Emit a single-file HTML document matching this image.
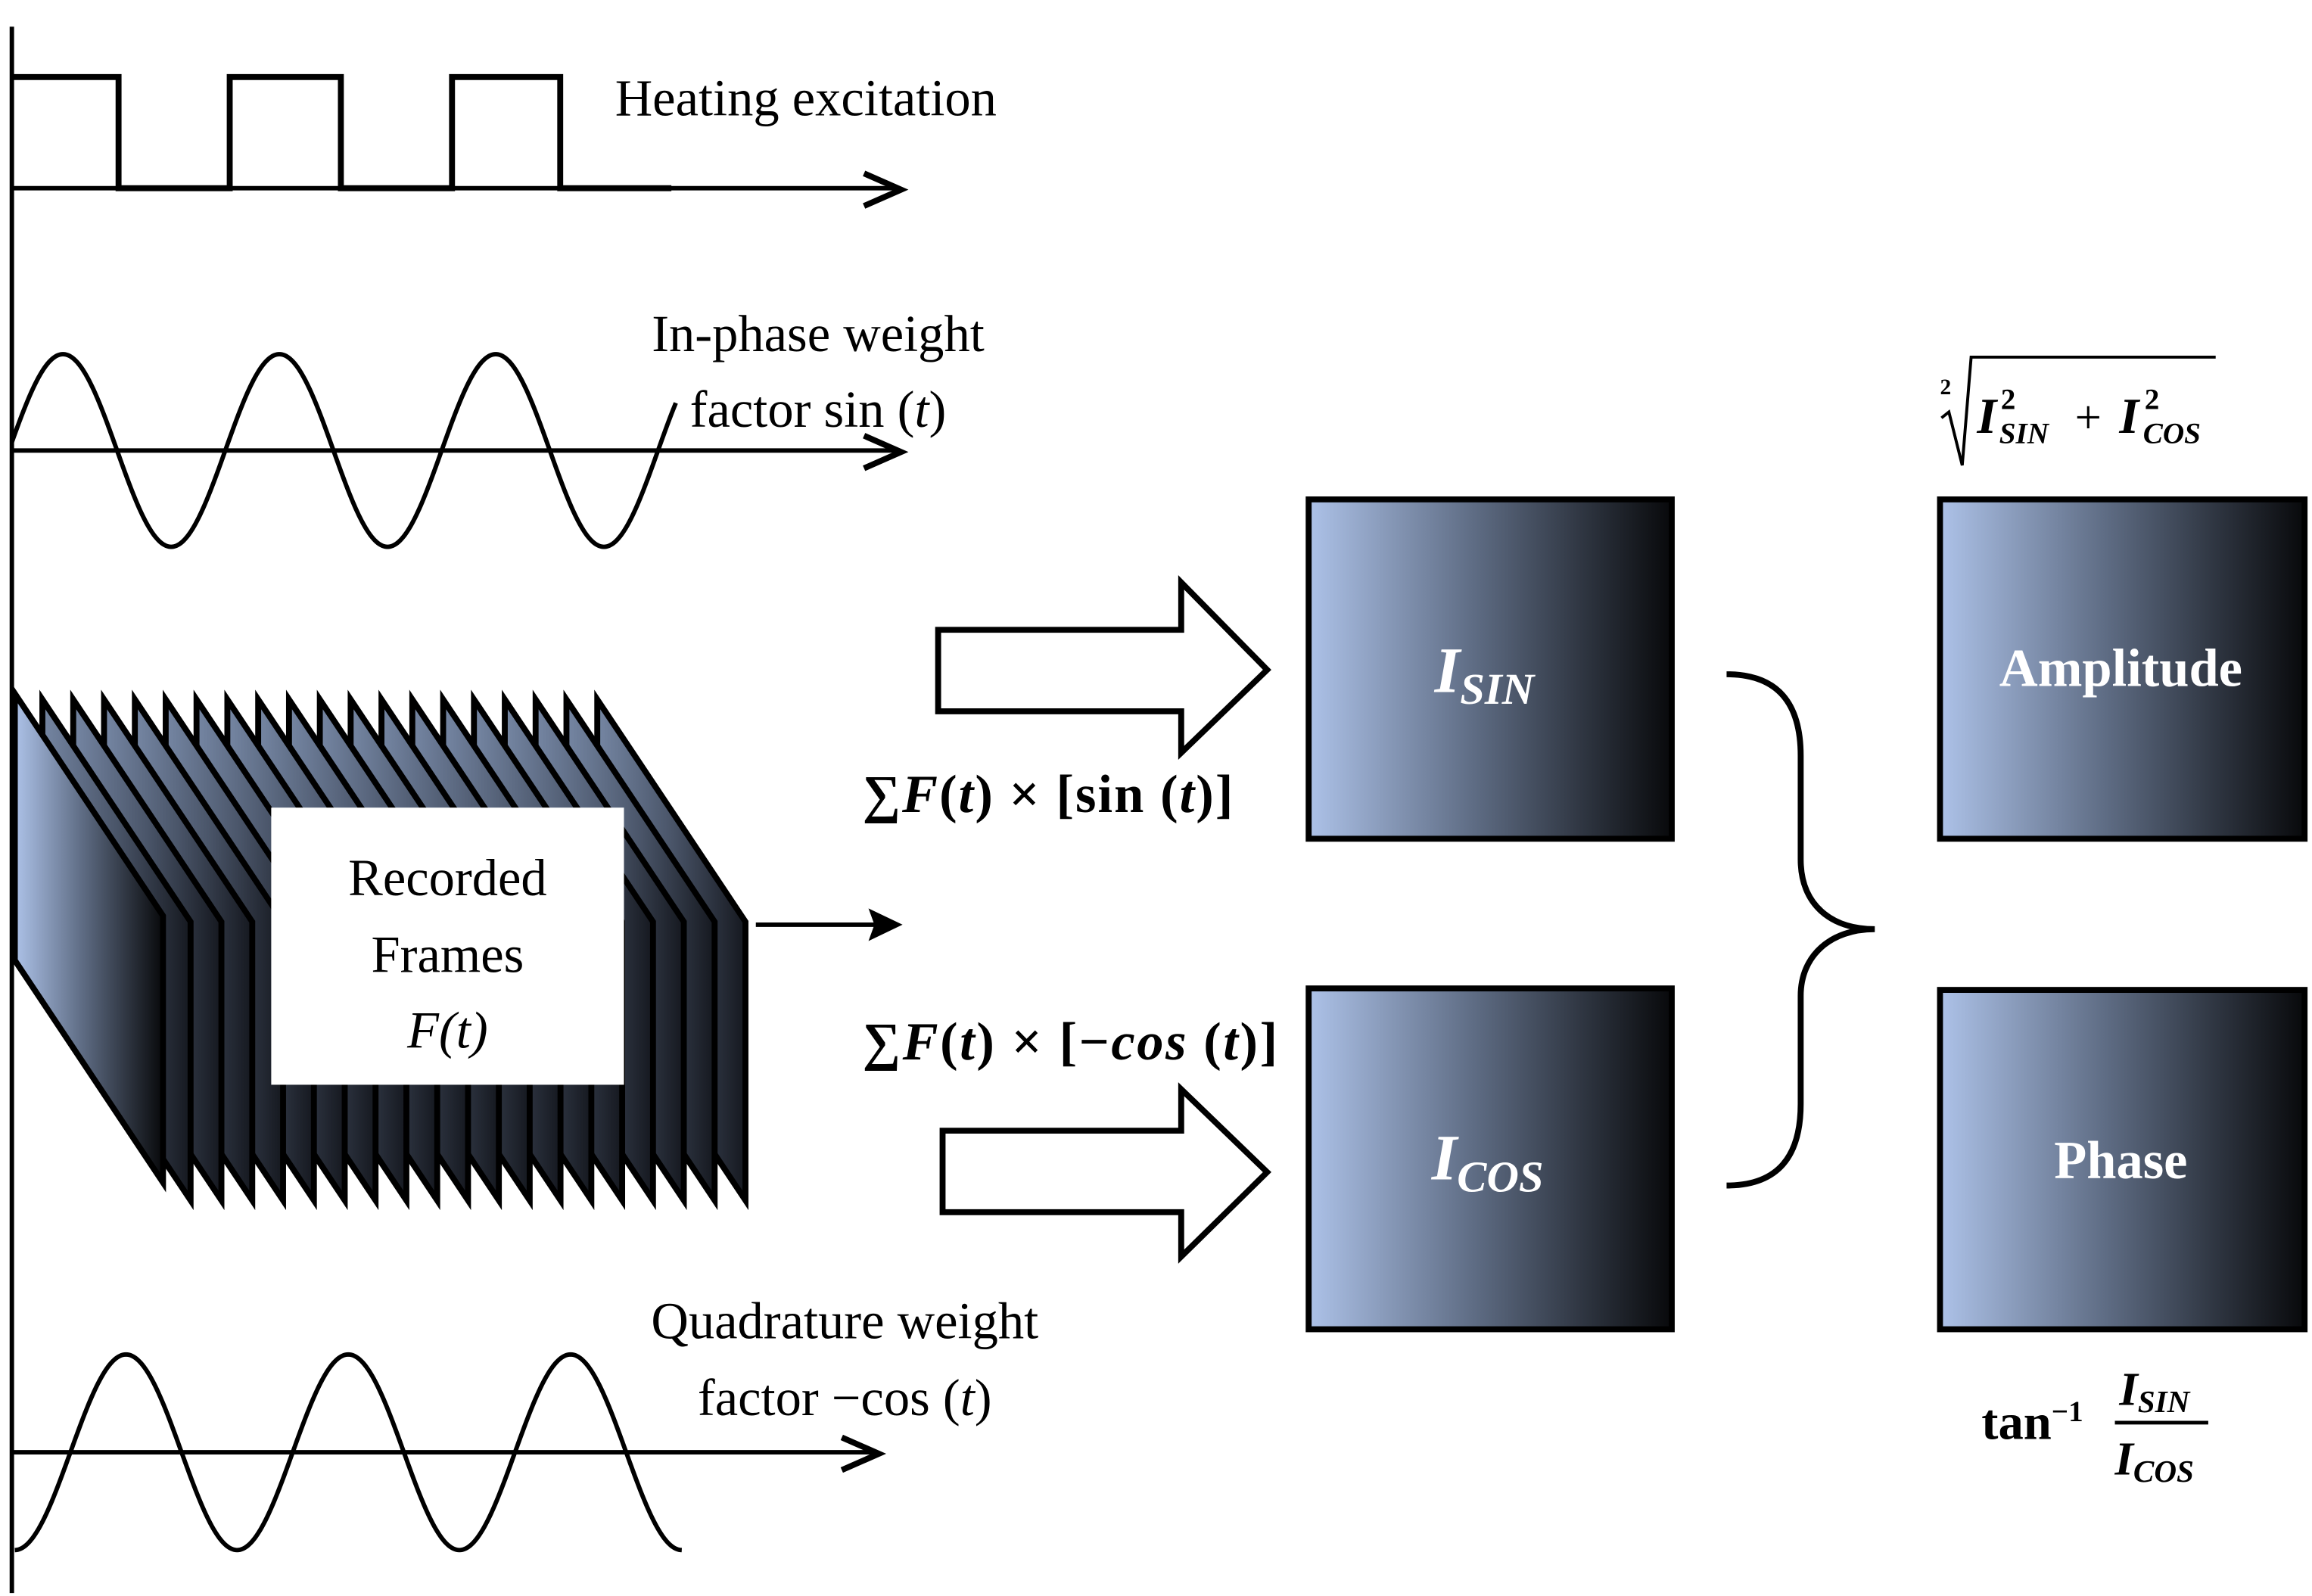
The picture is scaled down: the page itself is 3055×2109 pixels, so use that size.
<!DOCTYPE html>
<html><head><meta charset="utf-8"><style>
html,body{margin:0;padding:0;background:#fff;}
svg{display:block;}
text{font-family:"Liberation Serif",serif;}
</style></head><body>
<svg id="s" width="3055" height="2109" viewBox="0 0 1560 1077" preserveAspectRatio="none" xmlns="http://www.w3.org/2000/svg">
<defs>
<linearGradient id="g" x1="0" y1="0" x2="1" y2="0">
<stop offset="0" stop-color="#adc2e8"/><stop offset="0.45" stop-color="#5f6d85"/><stop offset="1" stop-color="#08090b"/>
</linearGradient>
<linearGradient id="g2" x1="0" y1="0" x2="1" y2="0">
<stop offset="0" stop-color="#7586a3"/><stop offset="0.5" stop-color="#4a5569"/><stop offset="1" stop-color="#15181f"/>
</linearGradient>
</defs>
<g id="frames"></g>
<line x1="8" y1="18" x2="8" y2="1075" stroke="#000" stroke-width="3"/>
<path d="M8,52 H80 V127 H155 V52 H230 V127 H305 V52 H378 V127 H453" fill="none" stroke="#000" stroke-width="4"/>
<line x1="8" y1="127" x2="605" y2="127" stroke="#000" stroke-width="3"/>
<path d="M583,117 L608,128 L583,139" fill="none" stroke="#000" stroke-width="4"/>
<text x="415" y="78" font-size="35">Heating excitation</text>
<path id="w1" fill="none" stroke="#000" stroke-width="3"/>
<line x1="8" y1="304" x2="605" y2="304" stroke="#000" stroke-width="3"/>
<path d="M583,294 L608,305 L583,316" fill="none" stroke="#000" stroke-width="4"/>
<text x="552" y="237" font-size="35" text-anchor="middle">In-phase weight</text>
<text x="552" y="288" font-size="35" text-anchor="middle">factor  sin (<tspan font-style="italic">t</tspan>)</text>
<path id="w2" fill="none" stroke="#000" stroke-width="3"/>
<line x1="8" y1="980" x2="590" y2="980" stroke="#000" stroke-width="3"/>
<path d="M568,970 L593,981 L568,992" fill="none" stroke="#000" stroke-width="4"/>
<text x="570" y="903" font-size="35" text-anchor="middle">Quadrature weight</text>
<text x="570" y="955" font-size="35" text-anchor="middle">factor  −cos (<tspan font-style="italic">t</tspan>)</text>
<line x1="510" y1="624" x2="600" y2="624" stroke="#000" stroke-width="3"/>
<path d="M586,613 L609,624 L586,635 L590,624 Z" fill="#000"/>
<rect x="183" y="545" width="238" height="187" fill="#fff"/>
<text x="302" y="604" font-size="35" text-anchor="middle">Recorded</text>
<text x="302" y="656" font-size="35" text-anchor="middle">Frames</text>
<text x="302" y="707" font-size="35" text-anchor="middle" font-style="italic">F(t)</text>
<path d="M633,425 H797 V393 L855,452 L797,508 V480 H633 Z" fill="#fff" stroke="#000" stroke-width="4"/>
<path d="M636,763 H797 V735 L855,791 L797,848 V818 H636 Z" fill="#fff" stroke="#000" stroke-width="4"/>
<text x="582" y="548" font-size="36" font-weight="bold" textLength="250" lengthAdjust="spacing">∑<tspan font-style="italic">F</tspan>(<tspan font-style="italic">t</tspan>) × [sin (<tspan font-style="italic">t</tspan>)]</text>
<text x="582" y="715" font-size="36" font-weight="bold" textLength="280" lengthAdjust="spacing">∑<tspan font-style="italic">F</tspan>(<tspan font-style="italic">t</tspan>) × [−<tspan font-style="italic">cos</tspan> (<tspan font-style="italic">t</tspan>)]</text>
<rect x="883" y="337" width="245" height="229" fill="url(#g)" stroke="#000" stroke-width="4"/>
<rect x="883" y="667" width="245" height="230" fill="url(#g)" stroke="#000" stroke-width="4"/>
<rect x="1309" y="337" width="246" height="229" fill="url(#g)" stroke="#000" stroke-width="4"/>
<rect x="1309" y="668" width="246" height="229" fill="url(#g)" stroke="#000" stroke-width="4"/>
<text x="968" y="467" font-size="44" font-weight="bold" font-style="italic" fill="#fff">I<tspan font-size="30" dy="8">SIN</tspan></text>
<text x="966" y="796" font-size="44" font-weight="bold" font-style="italic" fill="#fff">I<tspan font-size="30" dy="8">COS</tspan></text>
<text x="1431" y="463" font-size="36" font-weight="bold" fill="#fff" text-anchor="middle">Amplitude</text>
<text x="1431" y="795" font-size="36" font-weight="bold" fill="#fff" text-anchor="middle">Phase</text>
<path d="M1165,455 C1200,455 1215,475 1215,510 V580 C1215,610 1235,627 1265,627 C1235,627 1215,645 1215,672 V745 C1215,780 1200,800 1165,800" fill="none" stroke="#000" stroke-width="4"/>
<text x="1309" y="266" font-size="15" font-weight="bold">2</text>
<path d="M1310,282 L1315,278 L1324,314 L1330,241 H1495" fill="none" stroke="#000" stroke-width="2"/>
<text x="1334" y="292" font-size="34" font-weight="bold" font-style="italic">I</text>
<text x="1350" y="276" font-size="20" font-weight="bold">2</text>
<text x="1349" y="299" font-size="20" font-weight="bold" font-style="italic">SIN</text>
<text x="1400" y="292" font-size="32">+</text>
<text x="1430" y="292" font-size="34" font-weight="bold" font-style="italic">I</text>
<text x="1447" y="276" font-size="20" font-weight="bold">2</text>
<text x="1446" y="299" font-size="20" font-weight="bold" font-style="italic">COS</text>
<text x="1337" y="971" font-size="34" font-weight="bold">tan<tspan font-size="20" dy="-12">−1</tspan></text>
<text x="1430" y="948" font-size="32" font-weight="bold" font-style="italic">I<tspan font-size="21" dy="5">SIN</tspan></text>
<line x1="1427" y1="960" x2="1490" y2="960" stroke="#000" stroke-width="2.5"/>
<text x="1427" y="995" font-size="32" font-weight="bold" font-style="italic">I<tspan font-size="21" dy="5">COS</tspan></text>
</svg>
<script>
(function(){
 function wave(id,x0,x1,yc,A,ph,P){var d="";for(var x=x0;x<=x1;x+=1){var y=yc-A*Math.sin(2*Math.PI*(x-ph)/P);d+=(x==x0?"M":"L")+x+","+y.toFixed(2);}document.getElementById(id).setAttribute("d",d);}
 wave("w1",8,456,304,65,6,146);
 wave("w2",10,460,980,66,47.5,150);
 var g=document.getElementById("frames"),s="";
 for(var i=19;i>=1;i--){var L=28.6+(i-1)*20.8;
  s+='<path d="M'+L+',472 L'+(L+100)+',622 L'+(L+100)+',810 L'+L+',660 Z" fill="url(#g2)" stroke="#000" stroke-width="4"/>';}
 s+='<path d="M10,468 L110,618 L110,798 L10,648 Z" fill="url(#g)" stroke="#000" stroke-width="4"/>';
 g.innerHTML=s;
})();
</script>
</body></html>
